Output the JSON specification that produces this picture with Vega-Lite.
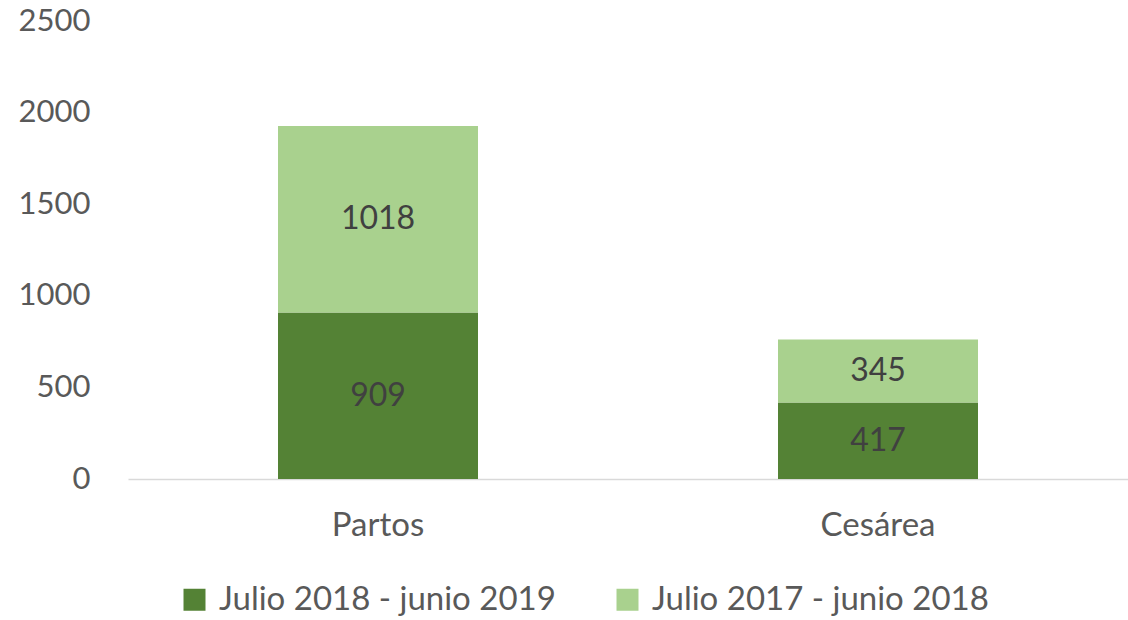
{
  "$schema": "https://vega.github.io/schema/vega-lite/v6.json",
  "width": 1000,
  "height": 458,
  "autosize": "none",
  "padding": {"left": 128, "top": 21, "right": 0, "bottom": 141},
  "config": {"view": {"stroke": null}, "font": "Lato"},
  "data": {"values": [
    {"cat": "Partos", "serie": "Julio 2018 - junio 2019", "valor": 909, "orden": 1},
    {"cat": "Partos", "serie": "Julio 2017 - junio 2018", "valor": 1018, "orden": 2},
    {"cat": "Cesárea", "serie": "Julio 2018 - junio 2019", "valor": 417, "orden": 1},
    {"cat": "Cesárea", "serie": "Julio 2017 - junio 2018", "valor": 345, "orden": 2}
  ]},
  "transform": [
    {"stack": "valor", "groupby": ["cat"], "sort": [{"field": "orden"}], "as": ["v0", "v1"]}
  ],
  "encoding": {
    "x": {"field": "cat", "type": "nominal", "sort": ["Partos", "Cesárea"],
      "scale": {"paddingInner": 0.6, "paddingOuter": 0.3},
      "axis": {"title": null, "labelAngle": 0, "ticks": false, "domainColor": "#d9d9d9", "domainWidth": 1.5,
        "labelFontSize": 33, "labelColor": "#595959", "labelPadding": 30}}
  },
  "layer": [
    {
      "mark": {"type": "bar"},
      "encoding": {
        "y": {"field": "v0", "type": "quantitative",
          "scale": {"domain": [0, 2500], "nice": false},
          "axis": {"title": null, "grid": false, "domain": false, "ticks": false, "values": [0, 500, 1000, 1500, 2000, 2500],
            "format": "d", "labelFontSize": 31, "labelColor": "#595959", "labelPadding": 38}},
        "y2": {"field": "v1"},
        "color": {"field": "serie", "type": "nominal",
          "scale": {"domain": ["Julio 2018 - junio 2019", "Julio 2017 - junio 2018"], "range": ["#548235", "#A9D18E"]},
          "legend": {"title": null, "orient": "none", "legendX": 50, "legendY": 562, "direction": "horizontal", "symbolType": "square",
            "symbolSize": 484, "symbolStrokeWidth": 0, "labelFontSize": 33, "labelColor": "#595959", "labelLimit": 0,
            "columnPadding": 55, "labelOffset": 8}}
      }
    },
    {
      "transform": [{"fold": ["v0", "v1"], "as": ["k", "pos"]}],
      "mark": {"type": "text", "fontSize": 32, "color": "#404040", "baseline": "middle"},
      "encoding": {
        "y": {"field": "pos", "type": "quantitative", "aggregate": "mean"},
        "text": {"field": "valor", "type": "quantitative"},
        "detail": {"field": "serie"}
      }
    }
  ]
}
